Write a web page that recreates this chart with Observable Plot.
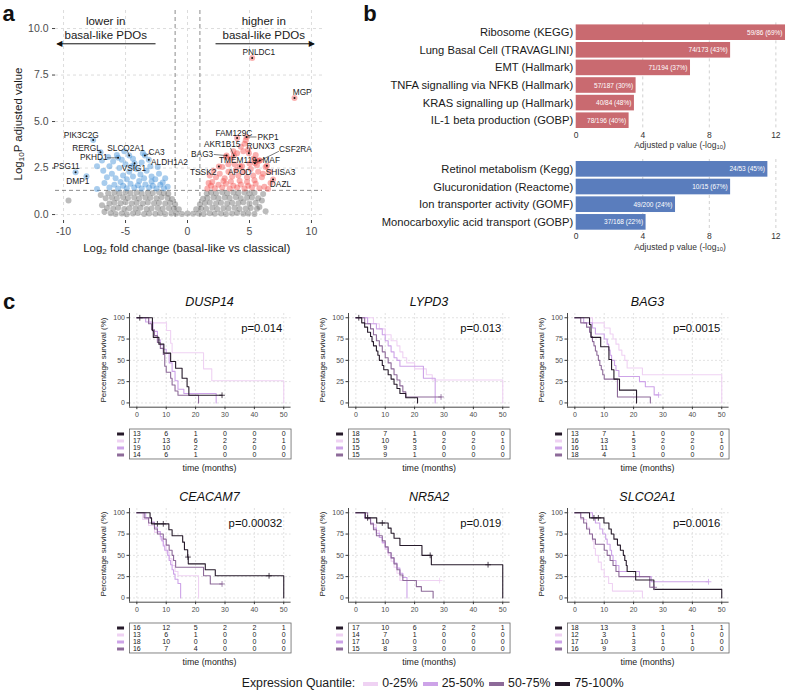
<!DOCTYPE html>
<html><head><meta charset="utf-8">
<script src="https://cdn.jsdelivr.net/npm/d3@7"></script>
<script src="https://cdn.jsdelivr.net/npm/@observablehq/plot@0.6"></script>
<style>
body{margin:0;background:#fff;font-family:"Liberation Sans",Arial,Helvetica,sans-serif;color:#1a1a1a;}
#root{position:relative;width:798px;height:691px;overflow:hidden;background:#fff;}
sub{font-size:70%;vertical-align:-0.25em;line-height:0;}
#legend{position:absolute;left:241.7px;top:676px;height:15px;display:flex;align-items:center;font-size:12.3px;line-height:15px;white-space:nowrap;color:#1a1a1a;}
#legend .sw{display:inline-block;width:15px;height:4px;margin:0 4px 0 5px;}
</style></head>
<body><div id="root"></div>
<script>
// ---------------- DATA: panel a (volcano) ----------------
const fcTicks = [-10, -5, 0, 5, 10];
const padjTicks = [0, 2.5, 5, 7.5, 10];
const foldThresholds = [-1, 1];
const padjThreshold = [1.3];
const greyGenes = [
 [-6.2,0.07],[-5.8,0.03],[-5.3,0.06],[-4.9,0.02],[-4.4,0.05],[-4.0,0.08],[-3.5,0.03],[-3.1,0.06],[-2.6,0.04],[-2.2,0.07],[-1.8,0.03],[-1.3,0.05],[-0.9,0.06],[-0.45,0.03],[0,0.05],[0.45,0.04],[0.9,0.06],[1.3,0.03],[1.8,0.07],[2.2,0.04],[2.7,0.06],[3.1,0.03],[3.6,0.05],[4.0,0.08],[4.5,0.04],[4.9,0.06],[5.4,0.03],
 [-6.5,0.35],[-6.0,0.31],[-5.6,0.36],[-5.1,0.3],[-4.7,0.34],[-4.2,0.32],[-3.8,0.37],[-3.3,0.3],[-2.9,0.33],[-2.4,0.35],[-2.0,0.31],[-1.5,0.34],[-1.1,0.32],[-0.7,0.28],[0.7,0.29],[1.1,0.33],[1.5,0.31],[2.0,0.36],[2.4,0.3],[2.9,0.34],[3.3,0.32],[3.8,0.37],[4.2,0.3],[4.7,0.33],[5.1,0.35],[5.6,0.31],
 [-6.3,0.6],[-5.9,0.64],[-5.4,0.61],[-5.0,0.66],[-4.5,0.59],[-4.1,0.63],[-3.6,0.6],[-3.2,0.65],[-2.7,0.61],[-2.3,0.64],[-1.8,0.6],[-1.4,0.63],[-1.0,0.55],[1.0,0.56],[1.4,0.62],[1.8,0.65],[2.3,0.6],[2.7,0.63],[3.2,0.59],[3.6,0.64],[4.1,0.61],[4.5,0.66],[5.0,0.6],[5.5,0.63],
 [-6.6,0.88],[-6.1,0.92],[-5.7,0.87],[-5.2,0.93],[-4.8,0.89],[-4.3,0.91],[-3.9,0.86],[-3.4,0.92],[-3.0,0.9],[-2.5,0.88],[-2.1,0.93],[-1.6,0.89],[-1.25,0.84],[1.25,0.85],[1.6,0.9],[2.1,0.92],[2.5,0.87],[3.0,0.91],[3.4,0.89],[3.9,0.93],[4.3,0.88],[4.8,0.9],[5.2,0.92],[5.7,0.87],
 [-6.4,1.15],[-5.9,1.19],[-5.5,1.14],[-5.0,1.2],[-4.6,1.16],[-4.1,1.18],[-3.7,1.13],[-3.2,1.19],[-2.8,1.16],[-2.3,1.2],[-1.9,1.15],[-1.55,1.12],[1.55,1.13],[1.9,1.18],[2.3,1.15],[2.8,1.2],[3.2,1.14],[3.7,1.18],[4.1,1.16],[4.6,1.19],[5.0,1.14],[5.4,1.17],
 [-9.6,0.75],[-6.9,0.5],[-7.0,1.05],[6.0,0.75],[6.1,1.1],[6.3,0.18],[-6.7,0.15],[5.8,0.4]
];
const downGenes = [
 [-7.3,1.38],[-6.3,1.45],[-5.9,1.6],[-5.6,1.4],[-5.2,1.55],[-4.9,1.42],[-4.6,1.65],[-4.3,1.45],[-4.0,1.58],[-3.7,1.4],[-3.4,1.62],[-3.1,1.45],[-2.8,1.55],[-2.5,1.4],[-2.2,1.6],[-1.9,1.42],[-1.6,1.5],[-6.7,1.7],[-5.4,1.75],[-3.9,1.8],[-2.9,1.78],[-2.0,1.72],
 [-6.8,2.35],[-6.5,2.0],[-6.1,2.2],[-5.8,1.95],[-5.5,2.5],[-5.2,2.1],[-4.9,1.9],[-4.7,2.3],[-4.4,2.05],[-4.1,2.45],[-3.8,2.15],[-3.5,1.95],[-3.3,2.35],[-2.9,2.05],[-2.6,1.9],[-2.3,2.2],[-6.3,2.6],[-5.0,2.7],[-4.5,2.6],[-3.0,2.6],[-1.8,1.95],
 [-6.9,2.9],[-6.4,3.1],[-6.0,2.85],[-5.7,3.2],[-5.3,2.95],[-4.4,3.0],[-3.7,2.8],[-7.3,2.6],[-3.6,3.3],[-2.4,2.55],[-5.1,3.4]
];
const upGenes = [
 [1.6,1.4],[1.9,1.55],[2.2,1.42],[2.5,1.6],[2.8,1.45],[3.1,1.65],[3.4,1.4],[3.7,1.55],[4.0,1.45],[4.3,1.62],[4.6,1.4],[4.9,1.55],[5.2,1.45],[5.5,1.65],[5.8,1.42],[6.2,1.5],[6.5,1.38],[2.0,1.75],[2.9,1.8],[3.5,1.78],[4.2,1.82],[4.8,1.75],[5.4,1.85],[1.7,1.7],
 [2.3,2.0],[2.6,2.2],[3.0,1.95],[3.3,2.3],[3.6,2.05],[3.9,2.4],[4.1,2.1],[4.5,2.3],[4.8,2.0],[5.1,2.45],[5.3,2.1],[5.7,2.3],[6.0,2.0],[6.3,2.55],[2.1,2.35],[2.8,2.55],[3.8,2.7],[4.4,2.6],[5.0,2.75],[5.6,2.65],[6.1,2.2],[1.8,2.1],
 [3.1,3.1],[3.5,3.0],[4.0,3.3],[4.3,3.65],[4.6,3.8],[4.9,3.5],[5.3,3.0],[5.8,2.9],[3.7,3.4],[4.7,4.0],[5.5,3.2],[4.5,3.4],[3.3,2.7],[6.7,1.7],[6.6,2.3]
];
// [gene, direction, x, y, labelX, labelY, segmentEndX, segmentEndY]
const labeledGenes = [
 ["PIK3C2G","down",-7.61,4.01,-8.57,4.25,null,null],
 ["RERGL","down",-7.02,3.35,-8.15,3.58,null,null],
 ["SLCO2A1","down",-4.7,3.17,-4.97,3.58,-4.85,3.42],
 ["CA3","down",-3.44,3.17,-2.5,3.35,-2.93,3.31],
 ["PKHD1","down",-5.6,3.05,-7.56,3.05,-6.5,3.05],
 ["ALDH1A2","down",-3.12,2.94,-1.45,2.78,null,null],
 ["VSIG1","down",-4.27,2.76,-4.32,2.49,-4.32,2.63],
 ["PSG11","down",-9.03,2.28,-9.76,2.6,null,null],
 ["DMP1","down",-8.15,2.06,-8.85,1.77,null,null],
 ["PNLDC1","up",5.22,8.42,5.75,8.73,null,null],
 ["MGP","up",8.63,6.27,9.25,6.58,null,null],
 ["FAM129C","up",4.0,4.12,3.74,4.37,null,null],
 ["PKP1","up",4.76,4.17,6.5,4.16,5.56,4.17],
 ["AKR1B15","up",3.74,3.17,2.8,3.76,3.47,3.58],
 ["RUNX3","up",4.95,3.3,5.89,3.66,5.03,3.59],
 ["CSF2RA","up",5.43,2.76,8.71,3.48,7.37,3.4],
 ["BAG3","up",3.15,3.17,1.18,3.23,2.12,3.23],
 ["TMEM119","up",5.55,2.92,4.06,2.9,5.28,2.92],
 ["MAF","up",5.83,2.9,6.75,2.94,null,null],
 ["TSSK2","up",2.53,2.58,1.26,2.28,null,null],
 ["APOD","up",4.22,2.6,4.22,2.28,null,null],
 ["SHISA3","up",6.4,2.62,7.5,2.28,null,null],
 ["DAZL","up",6.9,1.88,7.5,1.65,null,null]
];
const directionNotes = [["lower in",-6.6,10.39],["basal-like PDOs",-6.6,9.62],["higher in",6.15,10.39],["basal-like PDOs",6.15,9.62]];
const directionArrows = [[-2.58,-10.51,9.18],[2.26,10.19,9.18]];

// ---------------- DATA: panel b (enrichment bars) ----------------
const upTerms = ["Ribosome (KEGG)","Lung Basal Cell (TRAVAGLINI)","EMT (Hallmark)","TNFA signalling via NFKB (Hallmark)","KRAS signalling up (Hallmark)","IL-1 beta production (GOBP)"];
const upPvals = [12.58, 9.28, 6.87, 3.6, 3.5, 3.18];
const upOverlap = ["59/86 (69%)","74/173 (43%)","71/194 (37%)","57/187 (30%)","40/84 (48%)","78/196 (40%)"];
const downTerms = ["Retinol metabolism (Kegg)","Glucuronidation (Reactome)","Ion transporter activity (GOMF)","Monocarboxylic acid transport (GOBP)"];
const downPvals = [11.52, 9.28, 5.97, 4.2];
const downOverlap = ["24/53 (45%)","10/15 (67%)","49/200 (24%)","37/168 (22%)"];
const pTicks = [0, 4, 8, 12];

// ---------------- DATA: panel c (Kaplan-Meier) ----------------
const quantiles = ["0-25%","25-50%","50-75%","75-100%"];
const quantColors = ["#efd2f3","#cda3e8","#8d6a99","#261a2a"];
const tableOrder = ["75-100%","0-25%","25-50%","50-75%"];
const monthTicks = [0,10,20,30,40,50];
const survTicks = [0,25,50,75,100];

// [time, survival after that time] per quantile
const DUSP14_q1 = [[0,100],[4.2,94],[10.1,85],[11.5,70],[12,59],[22.7,40],[25.5,26],[50,0]];
const DUSP14_q2 = [[0,100],[3,95],[5.5,84],[7,74],[8,68],[9,63],[10,58],[11,47],[12,37],[13,26],[14,16],[16,11],[27,0]];
const DUSP14_q3 = [[0,100],[4,93],[5,86],[6,79],[7,71],[8,64],[9,57],[9.5,43],[10,36],[11.5,29],[12,21],[13,14],[14,9],[21,0]];
const DUSP14_q4 = [[0,100],[5.3,85],[5.6,77],[7.5,69],[9.2,58.5],[11.5,48.6],[13.2,40.8],[15.4,29],[17.1,19],[17.7,9],[29,9]];
const DUSP14_cens = [["75-100%",1,100],["75-100%",29,9]];
const DUSP14_risk = [[13,6,1,0,0,0],[17,13,6,2,2,1],[19,10,2,0,0,0],[14,6,1,0,0,0]];

const LYPD3_q1 = [[0,100],[6,93],[8,87],[10,80],[12,73],[14,67],[15,60],[16,53],[17.3,47],[20,40],[24,33],[26,27],[50,0]];
const LYPD3_q2 = [[0,100],[4,93],[7,87],[9,80],[10,73],[11,67],[12,60],[13,53],[14,50],[15,43],[23,29],[27,0]];
const LYPD3_q3 = [[0,100],[3,93],[5,87],[6,80],[7,73],[8,67],[9,60],[10,53],[11,47],[12,40],[13,33],[14,27],[15,20],[16,13],[17,7],[29,7]];
const LYPD3_q4 = [[0,100],[2,94],[3,89],[4,83],[5,78],[5.5,72],[6,67],[7,61],[7.5,56],[8,50],[9,44],[9.5,39],[11,33],[12,28],[13,22],[14,17],[15,11],[17,6],[21,0]];
const LYPD3_cens = [["75-100%",1,100],["50-75%",29,7]];
const LYPD3_risk = [[18,7,1,0,0,0],[15,10,5,2,2,1],[15,9,3,0,0,0],[15,9,1,0,0,0]];

const BAG3_q1 = [[0,100],[6,94],[10,88],[12,81],[13,75],[14,69],[15,62],[16,56],[17,50],[17.8,41],[23,33],[50,0]];
const BAG3_q2 = [[0,100],[3,94],[6,88],[7,81],[10,75],[11,69],[11.5,62],[12,56],[12.5,50],[13.5,44],[14,38],[15,31],[22,25],[24,19],[27,9.4],[28.5,9.4]];
const BAG3_q3 = [[0,100],[2,94],[4,89],[5,83],[5.5,78],[6,72],[6.5,67],[7,61],[7.5,56],[8,50],[8.5,44],[9,39],[9.5,33],[10,28],[14.5,7],[25.7,0]];
const BAG3_q4 = [[0,100],[5,92],[5.5,77],[8.8,66],[11.6,51],[12.5,39],[13.3,28],[15.2,15],[21,0]];
const BAG3_cens = [["25-50%",28.5,9.4]];
const BAG3_risk = [[13,7,1,0,0,0],[16,13,5,2,2,1],[16,11,3,0,0,0],[18,4,1,0,0,0]];

const CEACAM7_q1 = [[0,100],[2,92],[4,85],[6,77],[8,69],[9,62],[10,54],[11,46],[12,38],[13,31],[14,26],[21,0]];
const CEACAM7_q2 = [[0,100],[3,94],[5,89],[6,83],[7,78],[8,72],[8.5,67],[9,61],[9.5,56],[10.5,50],[11,44],[11.5,39],[12,33],[12.5,28],[13,22],[14,17],[14.9,0]];
const CEACAM7_q3 = [[0,100],[2.5,94],[4,88],[6,81],[7,75],[9,69],[10,62],[11,56],[12,50],[12.5,44],[13.2,36],[22.7,26],[25,16.4],[29,16.4]];
const CEACAM7_q4 = [[0,100],[4.5,94],[5,87],[10.9,80],[12,73],[15.6,65.5],[16.2,56.5],[17.3,48],[17.5,40],[23.3,33],[26.7,26],[50,0]];
const CEACAM7_cens = [["75-100%",7,87],["75-100%",9,87],["75-100%",17.4,48],["75-100%",45,26],["50-75%",29,16.4]];
const CEACAM7_risk = [[16,12,5,2,2,1],[13,6,1,0,0,0],[18,10,0,0,0,0],[16,7,4,0,0,0]];

const NR5A2_q1 = [[0,100],[3,93],[5,86],[7,79],[8,71],[9,64],[10,57],[11,50],[12,43],[13,36],[14,29],[15,20.4],[28.5,20.4]];
const NR5A2_q2 = [[0,100],[3,94],[5,88],[6,82],[7,76],[8,71],[9,65],[10,59],[11,53],[12,47],[13,41],[14,35],[15,29],[16,24],[17.4,0]];
const NR5A2_q3 = [[0,100],[4,93],[5,87],[6,80],[7,73],[9,67],[10,60],[11,53],[12,47],[13,40],[14,33],[15,27],[16,20.4],[20.6,13.3],[22.3,7.8],[26.3,0]];
const NR5A2_q4 = [[0,100],[3.2,94],[7.1,88],[11,82],[12,76],[13,70],[15,61.5],[22.5,50],[25.7,39],[50,0]];
const NR5A2_cens = [["75-100%",4,94],["75-100%",9,88],["75-100%",25.3,50],["75-100%",45,39],["0-25%",28.5,20.4]];
const NR5A2_risk = [[17,10,6,2,2,1],[14,7,1,0,0,0],[17,10,0,0,0,0],[15,8,3,0,0,0]];

const SLCO2A1_q1 = [[0,100],[2,92],[4,83],[5,75],[6,67],[6.5,58],[7,50],[8,42],[9,33],[10,25],[11.5,17],[12.8,8],[23,0]];
const SLCO2A1_q2 = [[0,100],[6,94],[7,88],[8.5,81],[9.5,75],[10.5,69],[11,63],[12,56],[12.5,50],[13,44],[14,38],[15,31],[22,25],[26,19],[45.5,19]];
const SLCO2A1_q3 = [[0,100],[2,94],[3,88],[4,81],[5,75],[6,69],[7,63],[10,56],[11,50],[12,44],[13,38],[14,31],[15,25],[25.5,12.5],[27,12.5]];
const SLCO2A1_q4 = [[0,100],[5,94],[9.9,88],[11.6,81],[12.4,75],[13.3,69],[14.5,62],[15.5,56],[16.5,50],[17,44],[17.5,38],[17.8,31],[20.7,21],[26.9,10],[50,0]];
const SLCO2A1_cens = [["75-100%",6.5,94],["75-100%",8,94],["25-50%",45.5,19],["50-75%",27,12.5]];
const SLCO2A1_risk = [[18,13,3,1,1,1],[12,3,1,0,0,0],[17,10,3,1,1,0],[16,9,3,0,0,0]];

const pLabelPos = [49.5, 88];

// ---------------- helpers ----------------
const root = document.getElementById("root");
const FONT = "'Liberation Sans', Arial, Helvetica, sans-serif";
const plotStyle = {background: "transparent", overflow: "visible", fontFamily: FONT};
function place(el, left, top) {
  el.style.position = "absolute"; el.style.left = left + "px"; el.style.top = top + "px";
  root.appendChild(el); return el;
}
function textAt(html, x, y, css = "", rot = "") {
  const d = document.createElement("div");
  d.innerHTML = html;
  d.style.cssText = `position:absolute;left:${x}px;top:${y}px;transform:translate(-50%,-50%) ${rot};white-space:nowrap;line-height:1;${css}`;
  root.appendChild(d); return d;
}

// ---------------- panel a ----------------
const lab = labeledGenes.map(([gene, dir, x, y, lx, ly, sx, sy]) => ({gene, dir, x, y, lx, ly, sx, sy}));
const blue = "#3d8fd8", red = "#f5534f";
const volcano = Plot.plot({
  width: 400, height: 262, marginLeft: 55, marginRight: 78, marginTop: 10, marginBottom: 42,
  style: plotStyle,
  x: {domain: [-10.65, 10.89]},
  y: {domain: [-0.32, 10.97]},
  marks: [
    Plot.gridX({ticks: fcTicks, stroke: "#dcdcdc", strokeOpacity: 1, strokeDasharray: "3,3"}),
    Plot.gridY({ticks: padjTicks, stroke: "#dcdcdc", strokeOpacity: 1, strokeDasharray: "3,3"}),
    Plot.axisX({ticks: fcTicks, tickFormat: d => String(d), tickSize: 3, tickPadding: 4, fontSize: 10.5, fill: "#4d4d4d", stroke: "#444", label: null}),
    Plot.axisY({ticks: padjTicks, tickFormat: d => d.toFixed(1), tickSize: 3, tickPadding: 4, fontSize: 10.5, fill: "#4d4d4d", stroke: "#444", label: null}),
    Plot.ruleX(foldThresholds, {stroke: "#6e6e6e", strokeDasharray: "4,3", strokeWidth: 0.8}),
    Plot.ruleY(padjThreshold, {stroke: "#6e6e6e", strokeDasharray: "4,3", strokeWidth: 0.8}),
    Plot.dot(greyGenes, {x: d => d[0], y: d => d[1], r: 3, fill: "#6b6b6b", fillOpacity: 0.45}),
    Plot.dot(downGenes, {x: d => d[0], y: d => d[1], r: 3, fill: blue, fillOpacity: 0.45}),
    Plot.dot(upGenes, {x: d => d[0], y: d => d[1], r: 3, fill: red, fillOpacity: 0.45}),
    Plot.dot(lab.filter(d => d.dir === "down"), {x: "x", y: "y", r: 3, fill: blue, fillOpacity: 0.45}),
    Plot.dot(lab.filter(d => d.dir === "up"), {x: "x", y: "y", r: 3, fill: red, fillOpacity: 0.45}),
    Plot.link(lab.filter(d => d.sx != null), {x1: "x", y1: "y", x2: "sx", y2: "sy", stroke: "#222", strokeWidth: 0.6}),
    Plot.dot(lab, {x: "x", y: "y", r: 1, fill: "#111"}),
    Plot.text(lab, {x: "lx", y: "ly", text: "gene", fontSize: 8.3, fill: "#1a1a1a"}),
    Plot.text(directionNotes, {x: d => d[1], y: d => d[2], text: d => d[0], fontSize: 11.5, fill: "#1a1a1a"}),
    Plot.link(directionArrows, {x1: d => d[0], x2: d => d[1], y1: d => d[2], y2: d => d[2], stroke: "#111", strokeWidth: 1}),
    Plot.text(directionArrows.filter(d => d[1] < 0), {x: d => d[1], y: d => d[2], text: () => "◀", textAnchor: "start", dx: -1, fontSize: 8, fill: "#111", fontFamily: "DejaVu Sans"}),
    Plot.text(directionArrows.filter(d => d[1] > 0), {x: d => d[1], y: d => d[2], text: () => "▶", textAnchor: "end", dx: 1, fontSize: 8, fill: "#111", fontFamily: "DejaVu Sans"})
  ]
});
place(volcano, 0, 0);
textAt("Log<sub>2</sub> fold change (basal-like vs classical)", 186.7, 248.5, "font-size:11.5px;color:#1a1a1a;");
textAt("Log<sub>10</sub>P adjusted value", 18.5, 124, "font-size:11.5px;color:#1a1a1a;", "rotate(-90deg)");

// ---------------- panel b ----------------
function termBars(terms, pvals, overlap, color, top, height, marginTop, marginBottom) {
  const rows = terms.map((term, i) => ({term, p: pvals[i], label: overlap[i]}));
  const svg = Plot.plot({
    width: 398, height, marginLeft: 175.7, marginRight: 6, marginTop, marginBottom,
    style: plotStyle,
    x: {domain: [0, 13]},
    y: {type: "band", domain: terms, padding: 0.114, round: false},
    marks: [
      Plot.gridX({ticks: [4, 8, 12], stroke: "#d0d0d0", strokeOpacity: 1, strokeDasharray: "3,3"}),
      Plot.barX(rows, {x: "p", y: "term", fill: color}),
      Plot.text(rows, {x: "p", y: "term", text: "label", textAnchor: "end", dx: -3, fill: "white", fontSize: 6.5}),
      Plot.axisX({ticks: pTicks, tickSize: 0, tickPadding: 1, fontSize: 8.5, fill: "#333", label: null}),
      Plot.axisY({tickSize: 0, tickPadding: 3, fontSize: 11.2, fill: "#1a1a1a", label: null})
    ]
  });
  place(svg, 400, top);
}
termBars(upTerms, upPvals, upOverlap, "#c96a70", 0, 152, 22.4, 22);
termBars(downTerms, downPvals, downOverlap, "#5a7dbd", 150, 100, 9, 18.3);
textAt("Adjusted p value (-log<sub>10</sub>)", 680, 145, "font-size:8.5px;color:#333;");
textAt("Adjusted p value (-log<sub>10</sub>)", 680, 246.7, "font-size:8.5px;color:#333;");

// ---------------- panel c ----------------
const kmColLeft = [128.7, 348.3, 566.7];
const kmRowTop = [313, 507.5];
function kmPanel(gene, pText, curves, censors, risk, col, row) {
  const fl = kmColLeft[col], ft = kmRowTop[row];
  const FW = 161.6, FH = 93.7, ML = 34, MR = 4, MT = 3, MB = 14;
  const lines = [];
  curves.forEach((pts, i) => pts.forEach(([t, s]) => lines.push({q: quantiles[i], t, s})));
  const cens = censors.map(([q, t, s]) => ({q, t, s}));
  const color = {type: "ordinal", domain: quantiles, range: quantColors};
  const svg = Plot.plot({
    width: ML + FW + MR, height: MT + FH + MB, marginLeft: ML, marginRight: MR, marginTop: MT, marginBottom: MB,
    style: plotStyle,
    x: {domain: [-2.5, 52.5]},
    y: {domain: [-5, 105]},
    color,
    marks: [
      Plot.gridX({ticks: monthTicks, stroke: "#e2e2e2", strokeOpacity: 1, strokeDasharray: "2,2"}),
      Plot.gridY({ticks: survTicks, stroke: "#e2e2e2", strokeOpacity: 1, strokeDasharray: "2,2"}),
      Plot.axisX({ticks: monthTicks, tickSize: 2.5, tickPadding: 2, fontSize: 7, fill: "#4d4d4d", stroke: "#333", label: null}),
      Plot.axisY({ticks: survTicks, tickSize: 2.5, tickPadding: 2, fontSize: 7, fill: "#4d4d4d", stroke: "#333", label: null}),
      Plot.ruleX([-2.5], {stroke: "#333", strokeWidth: 0.9}),
      Plot.ruleY([-5], {stroke: "#333", strokeWidth: 0.9}),
      Plot.line(lines, {x: "t", y: "s", z: "q", stroke: "q", curve: "step-after", strokeWidth: 1.1}),
      Plot.dot(cens, {x: "t", y: "s", stroke: "q", symbol: "plus", r: 2, strokeWidth: 0.8}),
      Plot.text([{t: pLabelPos[0], s: pLabelPos[1], label: pText}], {x: "t", y: "s", text: "label", textAnchor: "end", fontSize: 11.3, fill: "#111"})
    ]
  });
  place(svg, fl - ML, ft - MT);
  textAt(gene, fl + FW / 2, ft - 11, "font-size:12.5px;font-style:italic;color:#111;");
  textAt("Percentage survival (%)", fl - 25, ft + FH / 2, "font-size:8px;color:#1a1a1a;", "rotate(-90deg)");
  // risk table
  const cells = [];
  risk.forEach((r, i) => r.forEach((n, j) => cells.push({q: tableOrder[i], t: monthTicks[j], n})));
  const tableTop = ft + 115.3;
  const tbl = Plot.plot({
    width: ML + FW + MR, height: 31, marginLeft: ML, marginRight: MR, marginTop: 0.5, marginBottom: 0.5,
    style: plotStyle,
    x: {domain: [-2.5, 52.5], axis: null},
    y: {type: "band", domain: tableOrder, padding: 0, axis: null},
    color,
    marks: [
      Plot.frame({stroke: "#666", strokeWidth: 0.8}),
      Plot.text(cells, {x: "t", y: "q", text: "n", fontSize: 7, fill: "#222"}),
      // coloured key dashes just left of the table box
      Plot.ruleY(tableOrder, {y: d => d, stroke: d => d, strokeWidth: 3, insetLeft: -12, insetRight: FW + 5})
    ]
  });
  place(tbl, fl - ML, tableTop - 0.5);
  textAt("time (months)", fl + FW / 2, tableTop + 39.2, "font-size:8.8px;color:#1a1a1a;");
}
kmPanel("DUSP14", "p=0.014", [DUSP14_q1, DUSP14_q2, DUSP14_q3, DUSP14_q4], DUSP14_cens, DUSP14_risk, 0, 0);
kmPanel("LYPD3", "p=0.013", [LYPD3_q1, LYPD3_q2, LYPD3_q3, LYPD3_q4], LYPD3_cens, LYPD3_risk, 1, 0);
kmPanel("BAG3", "p=0.0015", [BAG3_q1, BAG3_q2, BAG3_q3, BAG3_q4], BAG3_cens, BAG3_risk, 2, 0);
kmPanel("CEACAM7", "p=0.00032", [CEACAM7_q1, CEACAM7_q2, CEACAM7_q3, CEACAM7_q4], CEACAM7_cens, CEACAM7_risk, 0, 1);
kmPanel("NR5A2", "p=0.019", [NR5A2_q1, NR5A2_q2, NR5A2_q3, NR5A2_q4], NR5A2_cens, NR5A2_risk, 1, 1);
kmPanel("SLCO2A1", "p=0.0016", [SLCO2A1_q1, SLCO2A1_q2, SLCO2A1_q3, SLCO2A1_q4], SLCO2A1_cens, SLCO2A1_risk, 2, 1);

// legend
const legend = document.createElement("div");
legend.id = "legend";
legend.innerHTML = "<span>Expression Quantile:</span><span style='width:3px;display:inline-block'></span>" +
  quantiles.map((q, i) => `<span class="sw" style="background:${quantColors[i]}"></span><span>${q}</span>`).join("");
root.appendChild(legend);

// panel letters
textAt("a", 8.5, 13.8, "font-size:22px;font-weight:bold;color:#111;");
textAt("b", 370, 13.8, "font-size:22px;font-weight:bold;color:#111;");
textAt("c", 9, 302, "font-size:22px;font-weight:bold;color:#111;");
</script></body></html>
